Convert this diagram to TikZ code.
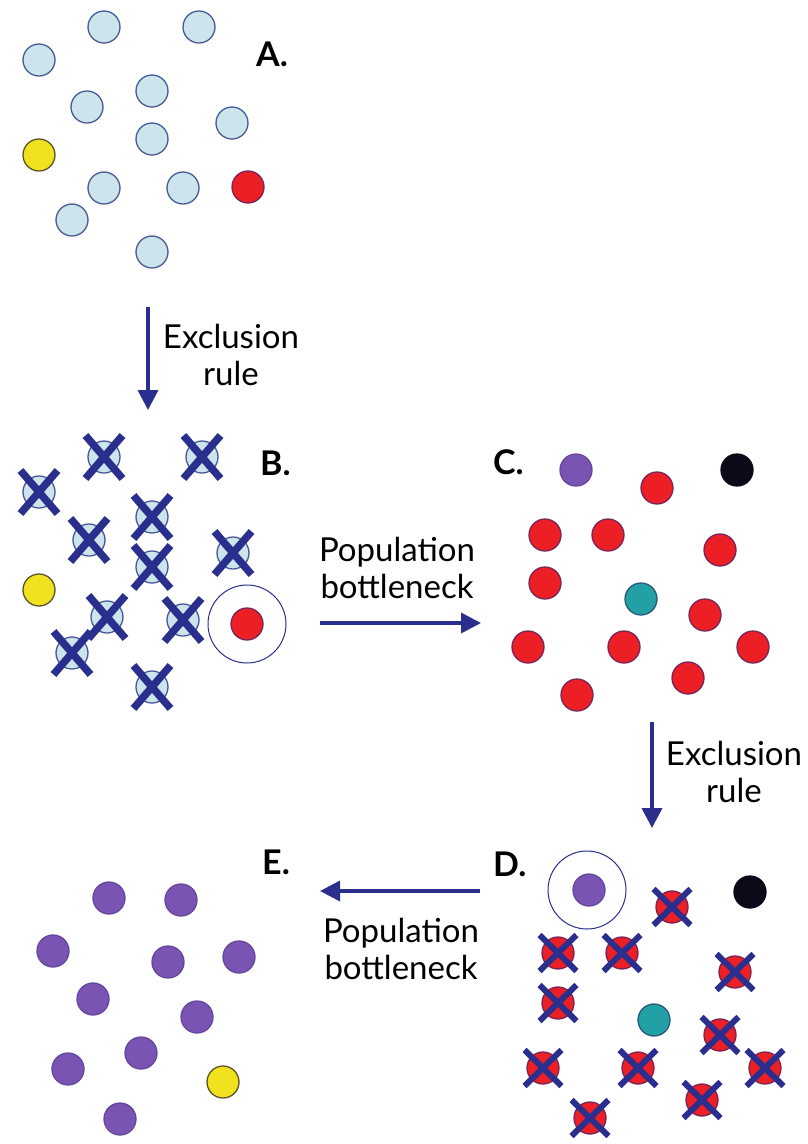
\documentclass[tikz,border=0pt]{standalone}
\usepackage{fontspec}
\setmainfont{Lato}
\usetikzlibrary{shapes.misc,arrows.meta}
\definecolor{lblue}{RGB}{204,228,236}
\definecolor{lbluedraw}{RGB}{70,90,150}
\definecolor{dred}{RGB}{236,32,36}
\definecolor{dreddraw}{RGB}{120,35,90}
\definecolor{dpurple}{RGB}{122,84,178}
\definecolor{dpurpledraw}{RGB}{100,70,160}
\definecolor{dteal}{RGB}{34,160,166}
\definecolor{dtealdraw}{RGB}{40,90,120}
\definecolor{dblack}{RGB}{10,10,25}
\definecolor{dyellow}{RGB}{240,226,30}
\definecolor{dyellowdraw}{RGB}{90,85,40}
\definecolor{navy}{RGB}{42,46,140}
\begin{document}
\begin{tikzpicture}[x=1pt,y=-1pt,
  dot/.style={circle,inner sep=0pt,minimum size=32pt,line width=1.3pt},
  bluedot/.style={dot,fill=lblue,draw=lbluedraw},
  reddot/.style={dot,fill=dred,draw=dreddraw},
  purpledot/.style={dot,fill=dpurple,draw=dpurpledraw},
  tealdot/.style={dot,fill=dteal,draw=dtealdraw},
  blackdot/.style={dot,fill=dblack,draw=dblack},
  yellowdot/.style={dot,fill=dyellow,draw=dyellowdraw},
  bigx/.style={cross out,draw=navy,line width=7.5pt,inner sep=0pt,outer sep=0pt,minimum width=37pt,minimum height=43pt},
  smallx/.style={cross out,draw=navy,line width=6pt,inner sep=0pt,outer sep=0pt,minimum width=37pt,minimum height=36pt},
  ring/.style={circle,draw=navy,line width=1pt,inner sep=0pt,minimum size=78pt},
  panel/.style={font=\fontsize{34}{34}\selectfont\bfseries,anchor=base west,inner sep=0pt},
  caption/.style={font=\fontsize{33}{37}\selectfont,align=center,inner sep=0pt},
  arr/.style={draw=navy,line width=3.5pt,-{Triangle[length=20pt,width=20pt]}}
]
\useasboundingbox (0,0) rectangle (807,1144);
\fill[white] (0,0) rectangle (807,1144);

% ---------- Panel A ----------
\node[panel] (labA) at (256,66) {A.};
\node[bluedot] (a1) at (104,27) {};
\node[bluedot] (a2) at (199,27) {};
\node[bluedot] (a3) at (39,60) {};
\node[bluedot] (a4) at (152,91) {};
\node[bluedot] (a5) at (87,107) {};
\node[bluedot] (a6) at (232,123) {};
\node[bluedot] (a7) at (152,139) {};
\node[yellowdot] (a8) at (39,155) {};
\node[bluedot] (a9) at (104,188) {};
\node[bluedot] (a10) at (183,188) {};
\node[reddot] (a11) at (248,187) {};
\node[bluedot] (a12) at (72,220) {};
\node[bluedot] (a13) at (152,252) {};

% ---------- Panel B ----------
\node[panel] (labB) at (260,475) {B.};
\node[bluedot] (b1) at (104,457) {};
\node[bluedot] (b2) at (202,457) {};
\node[bluedot] (b3) at (39,492) {};
\node[bluedot] (b4) at (152,517) {};
\node[bluedot] (b5) at (89,540) {};
\node[bluedot] (b6) at (233,553) {};
\node[bluedot] (b7) at (152,567) {};
\node[yellowdot] (b8) at (39,590) {};
\node[bluedot] (b9) at (107,617) {};
\node[bluedot] (b10) at (183,620) {};
\node[reddot] (b11) at (247,624) {};
\node[ring] (bring) at (247,624) {};
\node[bluedot] (b12) at (72,653) {};
\node[bluedot] (b13) at (152,687) {};
\foreach \n in {b1,b2,b3,b4,b5,b6,b7,b9,b10,b12,b13}
  \node[bigx] at (\n) {};

% ---------- Panel C ----------
\node[panel] (labC) at (493,474) {C.};
\node[purpledot] (c1) at (576,470) {};
\node[blackdot] (c2) at (737,470) {};
\node[reddot] (c3) at (657,488) {};
\node[reddot] (c4) at (545,535) {};
\node[reddot] (c5) at (608,535) {};
\node[reddot] (c6) at (720,550) {};
\node[reddot] (c7) at (545,583) {};
\node[tealdot] (c8) at (641,599) {};
\node[reddot] (c9) at (705,615) {};
\node[reddot] (c10) at (528,647) {};
\node[reddot] (c11) at (624,647) {};
\node[reddot] (c12) at (753,647) {};
\node[reddot] (c13) at (688,678) {};
\node[reddot] (c14) at (577,695) {};

% ---------- Panel D ----------
\node[panel] (labD) at (493,876) {D.};
\node[purpledot] (d1) at (589,890) {};
\node[ring] (dring) at (587,890) {};
\node[blackdot] (d2) at (750,892) {};
\node[reddot] (d3) at (672,907) {};
\node[reddot] (d4) at (558,953) {};
\node[reddot] (d5) at (622,953) {};
\node[reddot] (d6) at (735,972) {};
\node[reddot] (d7) at (558,1003) {};
\node[tealdot] (d8) at (654,1020) {};
\node[reddot] (d9) at (720,1035) {};
\node[reddot] (d10) at (543,1068) {};
\node[reddot] (d11) at (638,1068) {};
\node[reddot] (d12) at (765,1068) {};
\node[reddot] (d13) at (702,1100) {};
\node[reddot] (d14) at (590,1118) {};
\foreach \n in {d3,d4,d5,d6,d7,d9,d10,d11,d12,d13,d14}
  \node[smallx] at (\n) {};

% ---------- Panel E ----------
\node[panel] (labE) at (262,874) {E.};
\node[purpledot] (e1) at (109,898) {};
\node[purpledot] (e2) at (181,900) {};
\node[purpledot] (e3) at (53,951) {};
\node[purpledot] (e4) at (168,962) {};
\node[purpledot] (e5) at (239,957) {};
\node[purpledot] (e6) at (93,999) {};
\node[purpledot] (e7) at (197,1017) {};
\node[purpledot] (e8) at (141,1053) {};
\node[purpledot] (e9) at (68,1069) {};
\node[yellowdot] (e10) at (223,1082) {};
\node[purpledot] (e11) at (120,1119) {};

% ---------- Arrows and captions ----------
\coordinate (ab1) at (148,307);
\coordinate (ab2) at (148,410);
\draw[arr] (ab1) -- (ab2);
\node[caption] (capAB) at (231,355) {Exclusion\\rule};

\coordinate (bc1) at (320,623);
\coordinate (bc2) at (481,623);
\draw[arr] (bc1) -- (bc2);
\node[caption] (capBC) at (397,568) {Population\\bottleneck};

\coordinate (cd1) at (652,722);
\coordinate (cd2) at (652,828);
\draw[arr] (cd1) -- (cd2);
\node[caption] (capCD) at (734,772) {Exclusion\\rule};

\coordinate (de1) at (480,891);
\coordinate (de2) at (320,891);
\draw[arr] (de1) -- (de2);
\node[caption] (capDE) at (401,949) {Population\\bottleneck};
\end{tikzpicture}
\end{document}
